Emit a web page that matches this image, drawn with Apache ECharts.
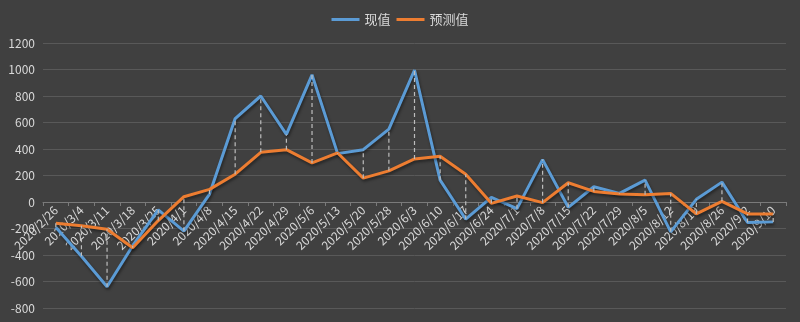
<!DOCTYPE html>
<html>
<head>
<meta charset="utf-8">
<style>
  html, body { margin: 0; padding: 0; background: #404040; }
  #chart { width: 800px; height: 322px; }
</style>
<script src="https://cdn.jsdelivr.net/npm/echarts@6/dist/echarts.min.js"></script>
</head>
<body>
<div id="chart"></div>
<script>
// Weekly dates on the category axis
const categories = [
  '2020/2/26', '2020/3/4', '2020/3/11', '2020/3/18', '2020/3/25', '2020/4/1',
  '2020/4/8', '2020/4/15', '2020/4/22', '2020/4/29', '2020/5/6', '2020/5/13',
  '2020/5/20', '2020/5/28', '2020/6/3', '2020/6/10', '2020/6/17', '2020/6/24',
  '2020/7/1', '2020/7/8', '2020/7/15', '2020/7/22', '2020/7/29', '2020/8/5',
  '2020/8/12', '2020/8/19', '2020/8/26', '2020/9/2', '2020/9/10'
];

// 现值 (actual)
const actualValues = [
  -190, -410, -640, -330, -60, -220,
  60, 630, 800, 510, 960, 365,
  395, 550, 995, 165, -130, 35,
  -50, 320, -40, 115, 65, 165,
  -225, 20, 150, -155, -150
];

// 预测值 (forecast)
const forecastValues = [
  -160, -180, -205, -345, -140, 40,
  95, 210, 375, 395, 295, 370,
  180, 235, 325, 345, 210, -10,
  45, -5, 145, 80, 60, 55,
  65, -90, 5, -90, -90
];

const yTicks = { min: -800, max: 1200, interval: 200 };

const seriesNames = ['现值', '预测值'];
const colors = ['#5b9bd5', '#ed7d31'];

// High-low connectors between the two series at each date
const hiLo = categories.map((c, i) => [
  i,
  Math.min(actualValues[i], forecastValues[i]),
  Math.max(actualValues[i], forecastValues[i])
]);

const font = '"Noto Sans CJK SC", "Noto Sans", sans-serif';
const chart = echarts.init(document.getElementById('chart'), null, { renderer: 'canvas' });

const lineShadow = {
  shadowColor: 'rgba(0,0,0,0.45)',
  shadowBlur: 3,
  shadowOffsetX: 1,
  shadowOffsetY: 2
};

chart.setOption({
  backgroundColor: '#404040',
  animation: false,
  textStyle: { fontFamily: font },
  legend: {
    top: 8,
    left: 'center',
    itemWidth: 28,
    itemHeight: 3,
    itemGap: 6,
    icon: 'rect',
    textStyle: { color: '#d9d9d9', fontSize: 13, fontFamily: font },
    data: seriesNames
  },
  grid: { left: 43, right: 14, top: 43, bottom: 14, containLabel: false, outerBoundsMode: 'none' },
  xAxis: {
    type: 'category',
    data: categories,
    boundaryGap: true,
    position: 'bottom',
    offset: 0,
    axisLine: { onZero: false, lineStyle: { color: '#7a7a7a', width: 1 } },
    axisTick: { show: true, alignWithLabel: false, inside: false, length: 4, lineStyle: { color: '#7a7a7a' } },
    axisLabel: {
      interval: 0,
      rotate: 45,
      color: '#d9d9d9',
      fontSize: 12,
      margin: 6,
      fontFamily: font
    },
    splitLine: { show: false }
  },
  yAxis: {
    type: 'value',
    min: yTicks.min,
    max: yTicks.max,
    interval: yTicks.interval,
    axisLine: { show: false },
    axisTick: { show: false },
    axisLabel: {
      color: '#d9d9d9', fontSize: 12, margin: 8, fontFamily: font,
      formatter: function (v) { return String(v); }
    },
    splitLine: { lineStyle: { color: '#595959', width: 1 } }
  },
  series: [
    {
      name: seriesNames[0],
      type: 'line',
      data: actualValues,
      showSymbol: false,
      symbol: 'none',
      color: colors[0],
      lineStyle: Object.assign({ width: 3, color: colors[0] }, lineShadow),
      z: 3
    },
    {
      name: seriesNames[1],
      type: 'line',
      data: forecastValues,
      showSymbol: false,
      symbol: 'none',
      color: colors[1],
      lineStyle: Object.assign({ width: 3, color: colors[1] }, lineShadow),
      z: 4
    },
    {
      name: 'hilo',
      type: 'custom',
      data: hiLo,
      encode: { x: 0, y: [1, 2] },
      z: 5,
      silent: true,
      renderItem: function (params, api) {
        const lo = api.coord([api.value(0), api.value(1)]);
        const hi = api.coord([api.value(0), api.value(2)]);
        return {
          type: 'line',
          shape: { x1: lo[0], y1: lo[1], x2: hi[0], y2: hi[1] },
          style: { stroke: '#bdbdbd', lineWidth: 1.2, lineDash: [4, 3] }
        };
      }
    }
  ]
});

// Lift the category axis (line, ticks, labels) up to the y = 0 level
const zeroY = chart.convertToPixel({ yAxisIndex: 0 }, 0);
const bottomY = chart.convertToPixel({ yAxisIndex: 0 }, yTicks.min);
chart.setOption({ xAxis: { offset: zeroY - bottomY } });
</script>
</body>
</html>
